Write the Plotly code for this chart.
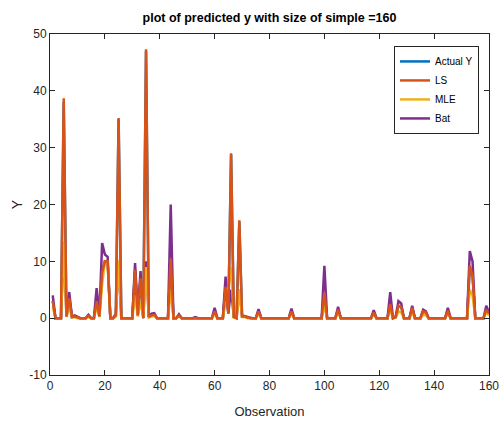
import plotly.graph_objects as go

obs = list(range(1, 161))

bat = [4.0, 0, 0, 0, 13.0, 0.5, 4.6, 0.3, 0.5, 0.2,
       0, 0, 0, 0.6, 0, 0, 5.3, 0.5, 13.2, 11.2,
       10.8, 0, 0, 0.8, 10.0, 0, 0, 0, 0, 0,
       9.7, 0.8, 8.3, 0, 10.0, 0.3, 0.8, 0.9, 0, 0,
       0, 0, 0, 20.0, 0, 0, 0.7, 0, 0, 0,
       0, 0, 0.2, 0, 0, 0, 0, 0, 0, 1.8,
       0, 0, 0, 7.3, 1.0, 5.0, 0.3, 0, 5.0, 0.5,
       0.4, 0.2, 0, 0, 0, 1.6, 0, 0, 0, 0,
       0, 0, 0, 0, 0, 0, 0, 1.7, 0, 0,
       0, 0, 0, 0, 0, 0, 0, 0, 0, 9.2,
       0, 0, 0, 0, 2.0, 0, 0, 0, 0.1, 0,
       0, 0, 0, 0, 0.1, 0, 0, 1.4, 0, 0,
       0, 0, 0, 4.6, 0, 0.3, 3.0, 2.6, 0, 0,
       0, 2.2, 0, 0, 0, 1.5, 1.2, 0, 0, 0,
       0, 0, 0, 0, 1.8, 0, 0, 0, 0, 0,
       0, 0, 11.8, 10.0, 0, 0, 0, 0, 2.2, 1.0]

ls = [3.0, 0, 0, 0, 38.7, 0.3, 3.5, 0.2, 0.3, 0.1,
      0, 0, 0, 0.4, 0, 0, 3.0, 0.3, 8.0, 10.0,
      10.0, 0, 0, 0.5, 35.2, 0, 0, 0, 0, 0,
      8.5, 0.5, 7.0, 0, 47.3, 0.2, 0.5, 0.6, 0, 0,
      0, 0, 0, 10.5, 0, 0, 0.5, 0, 0, 0,
      0, 0, 0.1, 0, 0, 0, 0, 0, 0, 1.2,
      0, 0, 0, 5.5, 0.8, 29.0, 0.2, 0, 17.2, 0.3,
      0.3, 0.1, 0, 0, 0, 1.2, 0, 0, 0, 0,
      0, 0, 0, 0, 0, 0, 0, 1.2, 0, 0,
      0, 0, 0, 0, 0, 0, 0, 0, 0, 4.5,
      0, 0, 0, 0, 1.5, 0, 0, 0, 0.1, 0,
      0, 0, 0, 0, 0.1, 0, 0, 1.0, 0, 0,
      0, 0, 0, 2.5, 0, 0.2, 2.2, 2.0, 0, 0,
      0, 1.8, 0, 0, 0, 1.2, 1.0, 0, 0, 0,
      0, 0, 0, 0, 1.3, 0, 0, 0, 0, 0,
      0, 0, 9.2, 7.5, 0, 0, 0, 0, 1.5, 0.8]

mle = [2.0, 0, 0, 0, 13.5, 0.2, 2.0, 0.1, 0.2, 0,
       0, 0, 0, 0.2, 0, 0, 2.0, 0.2, 6.0, 10.0,
       9.8, 0, 0, 0.3, 10.2, 0, 0, 0, 0, 0,
       4.0, 0.3, 3.0, 0, 9.0, 0.1, 0.3, 0.4, 0, 0,
       0, 0, 0, 5.0, 0, 0, 0.3, 0, 0, 0,
       0, 0, 0, 0, 0, 0, 0, 0, 0, 0.8,
       0, 0, 0, 3.0, 5.2, 9.0, 0.1, 0, 5.0, 0.2,
       0.2, 0, 0, 0, 0, 0.8, 0, 0, 0, 0,
       0, 0, 0, 0, 0, 0, 0, 0.8, 0, 0,
       0, 0, 0, 0, 0, 0, 0, 0, 0, 2.2,
       0, 0, 0, 0, 0.9, 0, 0, 0, 0, 0,
       0, 0, 0, 0, 0, 0, 0, 0.6, 0, 0,
       0, 0, 0, 1.5, 0, 0.1, 1.2, 1.0, 0, 0,
       0, 1.0, 0, 0, 0, 0.6, 0.5, 0, 0, 0,
       0, 0, 0, 0, 0.8, 0, 0, 0, 0, 0,
       0, 0, 5.0, 4.0, 0, 0, 0, 0, 1.0, 0.5]

actual_y = [3.0, 0, 0, 0, 38.0, 0.3, 3.4, 0.2, 0.3, 0.1,
            0, 0, 0, 0.4, 0, 0, 3.0, 0.3, 8.0, 10.0,
            10.0, 0, 0, 0.5, 35.0, 0, 0, 0, 0, 0,
            8.4, 0.5, 7.0, 0, 47.0, 0.2, 0.5, 0.6, 0, 0,
            0, 0, 0, 10.4, 0, 0, 0.5, 0, 0, 0,
            0, 0, 0.1, 0, 0, 0, 0, 0, 0, 1.2,
            0, 0, 0, 5.4, 0.8, 28.8, 0.2, 0, 17.0, 0.3,
            0.3, 0.1, 0, 0, 0, 1.2, 0, 0, 0, 0,
            0, 0, 0, 0, 0, 0, 0, 1.2, 0, 0,
            0, 0, 0, 0, 0, 0, 0, 0, 0, 4.4,
            0, 0, 0, 0, 1.5, 0, 0, 0, 0.1, 0,
            0, 0, 0, 0, 0.1, 0, 0, 1.0, 0, 0,
            0, 0, 0, 2.4, 0, 0.2, 2.2, 2.0, 0, 0,
            0, 1.8, 0, 0, 0, 1.2, 1.0, 0, 0, 0,
            0, 0, 0, 0, 1.3, 0, 0, 0, 0, 0,
            0, 0, 9.0, 7.4, 0, 0, 0, 0, 1.5, 0.8]

x_ticks = [0, 20, 40, 60, 80, 100, 120, 140, 160]
y_ticks = [-10, 0, 10, 20, 30, 40, 50]

FONT = "Liberation Sans, Arial, sans-serif"

W, H = 500, 423

fig = go.Figure()
# draw order chosen so that LS sits on top (as in the reference); legend order kept via legendrank
fig.add_trace(go.Scatter(x=obs, y=actual_y, mode="lines", name="Actual Y",
                         line=dict(color="#0072BD", width=2.5), legendrank=1))
fig.add_trace(go.Scatter(x=obs, y=bat, mode="lines", name="Bat",
                         line=dict(color="#7E2F8E", width=2.5), legendrank=4))
fig.add_trace(go.Scatter(x=obs, y=mle, mode="lines", name="MLE",
                         line=dict(color="#EDB120", width=2.5), legendrank=3))
fig.add_trace(go.Scatter(x=obs, y=ls, mode="lines", name="LS",
                         line=dict(color="#D95319", width=2.5), legendrank=2))

axis_common = dict(showline=True, linecolor="#262626", linewidth=1, mirror="ticks",
                   ticks="inside", ticklen=5, tickcolor="#262626", showgrid=False,
                   zeroline=False, automargin=False, ticklabeloverflow="allow",
                   tickfont=dict(family=FONT, size=12, color="#262626"))

fig.update_layout(
    width=W, height=H,
    paper_bgcolor="white", plot_bgcolor="white",
    margin=dict(l=50, r=11, t=34, b=48),
    title=dict(text="<b>plot of predicted y with size of simple =160</b>",
               x=(50 + 489) / 2 / W, xanchor="center", y=1 - 18 / H, yref="container",
               yanchor="middle", automargin=False,
               font=dict(family=FONT, size=12.5, color="black")),
    xaxis=dict(range=[0, 160], tickvals=x_ticks, ticktext=[str(v) for v in x_ticks],
               title=dict(text="Observation", standoff=14,
                          font=dict(family=FONT, size=13, color="#262626")),
               **axis_common),
    yaxis=dict(range=[-10, 50], tickvals=y_ticks, ticktext=[str(v) for v in y_ticks],
               title=dict(text="Y", standoff=3,
                          font=dict(family=FONT, size=14, color="#262626")),
               **axis_common),
    legend=dict(x=0.7836, y=0.965, xanchor="left", yanchor="top",
                bgcolor="white", bordercolor="#262626", borderwidth=1,
                font=dict(family=FONT, size=10, color="black"),
                tracegroupgap=0, itemwidth=30),
    showlegend=True,
)

# remove the default 8px page margin so the 500x423 figure fills the window exactly
fig.write_html("out.html", config={"displayModeBar": False},
               post_script="document.body.style.margin='0';"
                           "document.documentElement.style.overflow='hidden';")
